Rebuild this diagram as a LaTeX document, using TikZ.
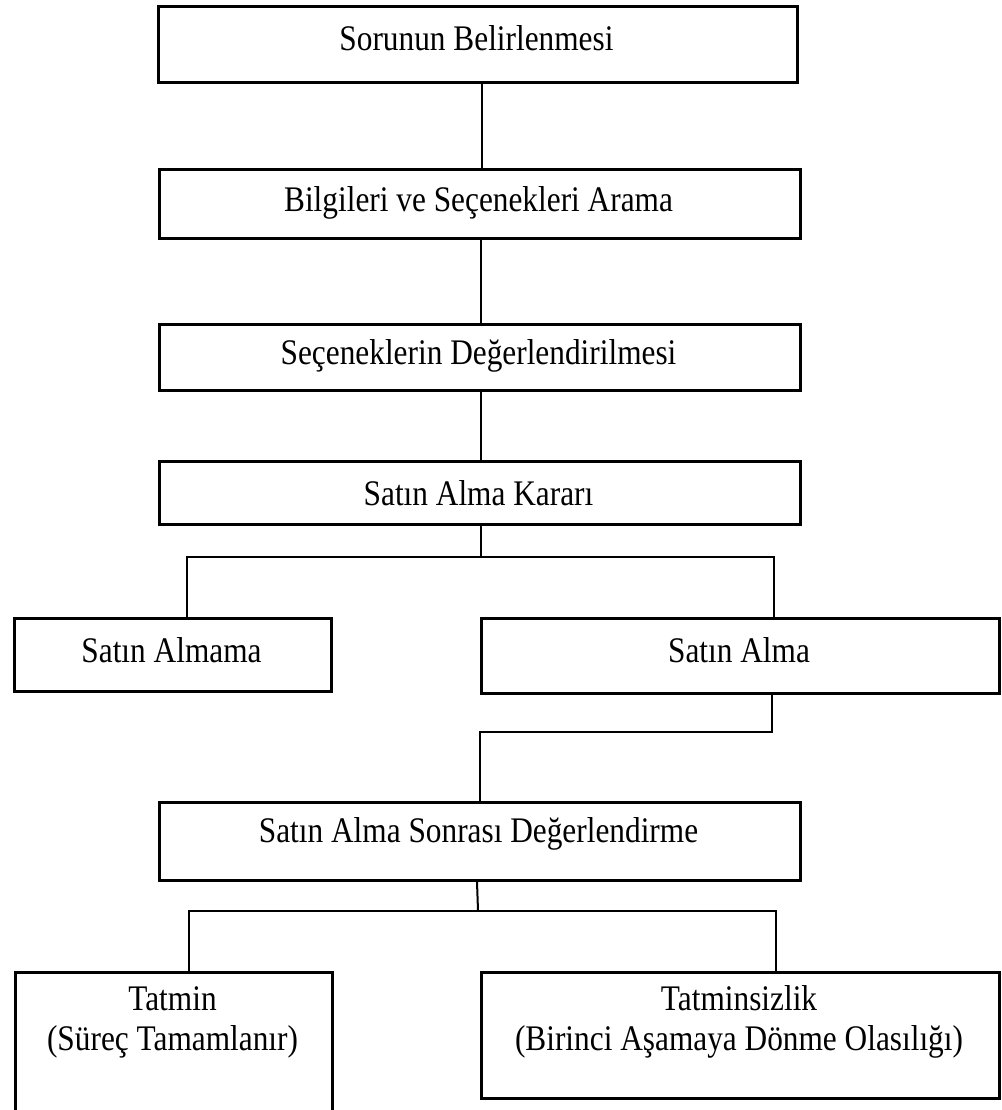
\documentclass[tikz,border=0pt]{standalone}
\usepackage{fontspec}
\setmainfont{Liberation Serif}
\newfontfamily\boxfont[FakeStretch=0.87]{Liberation Serif}
\begin{document}
\begin{tikzpicture}[x=1pt,y=-1pt,
  box/.style={draw=black,line width=2.6pt,rectangle,inner sep=0pt,anchor=north west},
  lbl/.style={inner sep=0pt,align=center,font=\boxfont\fontsize{36}{40}\selectfont},
  conn/.style={draw=black,line width=2pt}]
\useasboundingbox (0,0) rectangle (1001,1110);
\clip (0,0) rectangle (1001,1110);
\fill[white] (0,0) rectangle (1001,1110);
% boxes
\node[box,minimum width=639pt,minimum height=76pt] (b1) at (157,5) {};
\node[box,minimum width=641pt,minimum height=69pt] (b2) at (158,168) {};
\node[box,minimum width=641pt,minimum height=66pt] (b3) at (158,323) {};
\node[box,minimum width=641pt,minimum height=63pt] (b4) at (158,460) {};
\node[box,minimum width=317pt,minimum height=73pt] (l1) at (13,617) {};
\node[box,minimum width=518pt,minimum height=75pt] (r1) at (480,617) {};
\node[box,minimum width=641pt,minimum height=78pt] (b5) at (158,801) {};
\node[box,minimum width=317pt,minimum height=160pt] (l2) at (14,971) {};
\node[box,minimum width=518pt,minimum height=126pt] (r2) at (480,971) {};
% texts
\node[lbl] (t1) at (476.5,38) {Sorunun Belirlenmesi};
\node[lbl] (t2) at (478.5,203) {Bilgileri ve Seçenekleri Arama};
\node[lbl] (t3) at (478.5,356) {Seçeneklerin Değerlendirilmesi};
\node[lbl] (t4) at (478.5,493) {Satın Alma Kararı};
\node[lbl] (tl1) at (171.5,650) {Satın Almama};
\node[lbl] (tr1) at (739,650) {Satın Alma};
\node[lbl] (t5) at (478.5,834) {Satın Alma Sonrası Değerlendirme};
\node[lbl] (tl2) at (172.5,1022) {Tatmin\\(Süreç Tamamlanır)};
\node[lbl] (tr2) at (739,1022) {Tatminsizlik\\(Birinci Aşamaya Dönme Olasılığı)};
% connectors
\coordinate (j1) at (481,557);
\coordinate (j2) at (480,732);
\coordinate (j3) at (478,911);
\draw[conn] (b1.south -| 482,0) -- (b2.north -| 482,0);
\draw[conn] (b2.south -| 481,0) -- (b3.north -| 481,0);
\draw[conn] (b3.south -| 481,0) -- (b4.north -| 481,0);
\draw[conn] (b4.south -| j1) -- (j1);
\draw[conn] (l1.north -| 187,0) |- (j1) -| (r1.north -| 774,0);
\draw[conn] (r1.south -| 772,0) |- (j2) -- (b5.north -| j2);
\draw[conn] (b5.south -| 477,0) -- (j3);
\draw[conn] (l2.north -| 189,0) |- (j3) -| (r2.north -| 776,0);
\end{tikzpicture}
\end{document}
